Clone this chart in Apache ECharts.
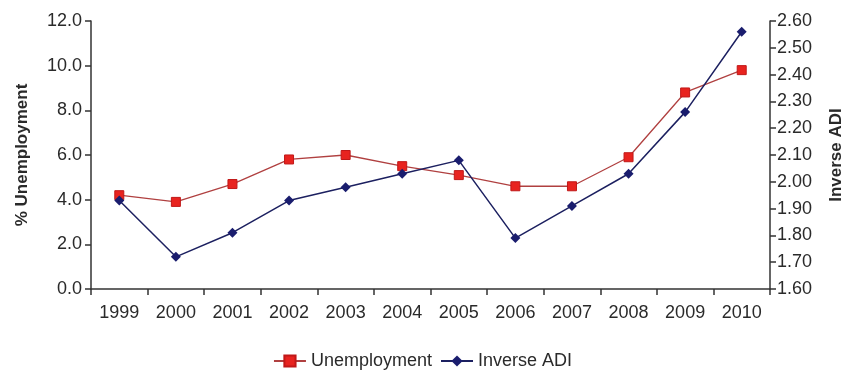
<!DOCTYPE html>
<html>
<head>
<meta charset="utf-8">
<title>Unemployment vs Inverse ADI</title>
<style>
html,body{margin:0;padding:0;background:#fff;}
#main{width:845px;height:375px;}
</style>
<script src="https://cdn.jsdelivr.net/npm/echarts@6/dist/echarts.min.js"></script>
</head>
<body>
<div id="main"></div>
<script>
// data
var years = ['1999','2000','2001','2002','2003','2004','2005','2006','2007','2008','2009','2010'];
var unemployment = [4.2, 3.9, 4.7, 5.8, 6.0, 5.5, 5.1, 4.6, 4.6, 5.9, 8.8, 9.8];
var inverseAdi = [1.93, 1.72, 1.81, 1.93, 1.98, 2.03, 2.08, 1.79, 1.91, 2.03, 2.26, 2.56];

var font = 'Liberation Sans, Arial, sans-serif';
var axisCol = '#333';
var textCol = '#2a2a2a';

var myChart = echarts.init(document.getElementById('main'));
var option = {
  animation: false,
  grid: {left: 91, right: 75, top: 21, bottom: 86, outerBoundsMode: 'none', containLabel: false},
  legend: {
    bottom: 0,
    left: 'center',
    itemWidth: 32,
    itemGap: 8,
    textStyle: {fontFamily: font, fontSize: 18, color: textCol},
    data: ['Unemployment', 'Inverse ADI']
  },
  xAxis: {
    type: 'category',
    data: years,
    boundaryGap: true,
    axisLine: {lineStyle: {color: axisCol, width: 1.5}},
    axisTick: {show: true, length: 6, lineStyle: {color: axisCol, width: 1.5}},
    axisLabel: {fontFamily: font, fontSize: 18, color: textCol, margin: 15}
  },
  yAxis: [{
    type: 'value',
    min: 0, max: 12, interval: 2,
    name: '% Unemployment',
    nameLocation: 'middle',
    nameRotate: 90,
    nameGap: 60,
    nameTextStyle: {fontFamily: font, fontSize: 17, fontWeight: 'bold', color: textCol},
    axisLine: {show: true, lineStyle: {color: axisCol, width: 1.5}},
    axisTick: {show: true, length: 6, lineStyle: {color: axisCol, width: 1.5}},
    axisLabel: {fontFamily: font, fontSize: 18, color: textCol, margin: 9,
      formatter: function (v) { return v.toFixed(1); }},
    splitLine: {show: false}
  }, {
    type: 'value',
    min: 1.6, max: 2.6, interval: 0.1,
    position: 'right',
    name: 'Inverse ADI',
    nameLocation: 'middle',
    nameRotate: 90,
    nameGap: 58,
    nameTextStyle: {fontFamily: font, fontSize: 17, fontWeight: 'bold', color: textCol},
    axisLine: {show: true, lineStyle: {color: axisCol, width: 1.5}},
    axisTick: {show: true, length: 6, lineStyle: {color: axisCol, width: 1.5}},
    axisLabel: {fontFamily: font, fontSize: 18, color: textCol, margin: 7,
      formatter: function (v) { return v.toFixed(2); }},
    splitLine: {show: false}
  }],
  series: [{
    name: 'Unemployment',
    type: 'line',
    yAxisIndex: 0,
    data: unemployment,
    symbol: 'rect',
    symbolSize: 9,
    lineStyle: {color: '#b04040', width: 1.3},
    itemStyle: {color: '#e8231f', borderColor: '#c01818', borderWidth: 1}
  }, {
    name: 'Inverse ADI',
    type: 'line',
    yAxisIndex: 1,
    data: inverseAdi,
    symbol: 'diamond',
    symbolSize: 10,
    lineStyle: {color: '#1c2060', width: 1.5},
    itemStyle: {color: '#1a1d6e'}
  }]
};
myChart.setOption(option, true);
</script>
</body>
</html>
